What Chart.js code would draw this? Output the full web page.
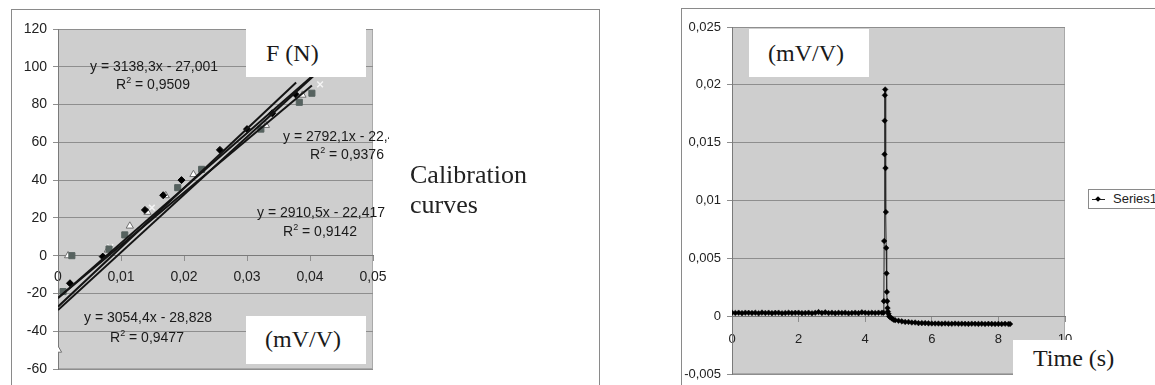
<!DOCTYPE html>
<html>
<head>
<meta charset="utf-8">
<script src="https://cdn.jsdelivr.net/npm/chart.js@4/dist/chart.umd.min.js"></script>
<style>
  html, body { margin: 0; padding: 0; background: #fff; }
  body { width: 1155px; height: 385px; position: relative; overflow: hidden; font-family: "Liberation Sans", Arial, sans-serif; }
  .frame { position: absolute; border: 1px solid #8a8a8a; box-sizing: border-box; }
  .wrap { position: absolute; }
  .clip { position: absolute; overflow: hidden; }
  .eq { position: absolute; font-size: 14px; line-height: 16px; color: #1a1a1a; white-space: nowrap; }
  .eq sup { font-size: 9px; vertical-align: 6px; line-height: 0; }
  .box { position: absolute; background: #fff; font-family: "Liberation Serif", "Times New Roman", serif; font-size: 24px; color: #1a1a1a; white-space: nowrap; }
  .serif { position: absolute; font-family: "Liberation Serif", "Times New Roman", serif; font-size: 26px; line-height: 30px; color: #222; }
  .legend { position: absolute; left: 1088px; top: 189px; width: 90px; height: 20px; border: 1px solid #8a8a8a; box-sizing: border-box; background: #fff; }
  .legend .ln { position: absolute; left: 3px; top: 9px; width: 13px; height: 1px; background: #222; }
  .legend .mk { position: absolute; left: 7px; top: 7px; width: 4px; height: 4px; background: #000; transform: rotate(45deg); }
  .legend .tx { position: absolute; left: 24px; top: 1px; font-size: 13px; line-height: 16px; color: #222; }
</style>
</head>
<body>

<div class="frame" style="left:11px; top:9px; width:589px; height:400px;"></div>
<div class="frame" style="left:681px; top:8px; width:500px; height:400px;"></div>

<div class="wrap" style="left:11px; top:9px; width:588px; height:376px;"><canvas id="calib"></canvas></div>
<div class="wrap" style="left:681px; top:8px; width:474px; height:377px;"><canvas id="signal"></canvas></div>

<!-- left chart overlays: equations clipped at chart edge -->
<div class="clip" style="left:58px; top:29px; width:331px; height:341px;">
  <div class="eq" style="left:32px; top:29px;">y = 3138,3x - 27,001</div>
  <div class="eq" style="left:58px; top:47px;">R<sup>2</sup> = 0,9509</div>
  <div class="eq" style="left:225px; top:99px;">y = 2792,1x - 22,4</div>
  <div class="eq" style="left:252px; top:117px;">R<sup>2</sup> = 0,9376</div>
  <div class="eq" style="left:199px; top:175px;">y = 2910,5x - 22,417</div>
  <div class="eq" style="left:225px; top:194px;">R<sup>2</sup> = 0,9142</div>
  <div class="eq" style="left:26px; top:280px;">y = 3054,4x - 28,828</div>
  <div class="eq" style="left:52px; top:300px;">R<sup>2</sup> = 0,9477</div>
</div>
<div class="box" style="left:246px; top:29px; width:120px; height:48px; line-height:48px; padding-left:20px; box-sizing:border-box;">F (N)</div>
<div class="box" style="left:246px; top:316px; width:120px; height:48px; line-height:46px; padding-left:19px; box-sizing:border-box;">(mV/V)</div>
<div class="serif" style="left:410px; top:160px;">Calibration<br>curves</div>

<!-- right chart overlays -->
<div class="box" style="left:749px; top:29px; width:120px; height:48px; line-height:48px; padding-left:19px; box-sizing:border-box;">(mV/V)</div>
<div class="box" style="left:1013px; top:340px; width:110px; height:36px; line-height:36px; padding-left:20px; box-sizing:border-box;">Time (s)</div>
<div class="legend"><div class="ln"></div><div class="mk"></div><div class="tx">Series1</div></div>

<script>
// ---- calibration data (strain gauge signal mV/V vs force N) ----
const diamondX = [0.0019, 0.0071, 0.0138, 0.0167, 0.0196, 0.0257, 0.0300, 0.0340, 0.0377];
const diamondY = [-14.6, -0.5, 24.2, 32, 40, 56, 67, 75.4, 85.4];
const squareX = [0.0008, 0.0022, 0.0081, 0.0106, 0.0190, 0.0228, 0.0322, 0.0383, 0.0403];
const squareY = [-19, 0, 3.5, 11, 36, 45.7, 67, 81.2, 86];
const triangleX = [0, 0.0016, 0.0079, 0.0114, 0.0142, 0.0171, 0.0215, 0.0330, 0.0388];
const triangleY = [-50, 0, 3, 15.7, 23, 31.8, 43, 69, 85];
const crossX = [0.0083, 0.0149, 0.0416];
const crossY = [4.5, 25.4, 90.7];

// trend lines as labelled on the chart
const fitSlope = [3138.3, 2792.1, 2910.5, 3054.4];
const fitIntercept = [-27.001, -22.4, -22.417, -28.828];
const fitEnd = [0.0378, 0.0403, 0.0416, 0.0416];

const calibXTicks = [0, 0.01, 0.02, 0.03, 0.04, 0.05];

// ---- time signal data ----
const timeS = [
  0, 0.1, 0.2, 0.3, 0.4, 0.5, 0.6, 0.7, 0.8, 0.9,
  1.0, 1.1, 1.2, 1.3, 1.4, 1.5, 1.6, 1.7, 1.8, 1.9,
  2.0, 2.1, 2.2, 2.3, 2.4, 2.5, 2.6, 2.7, 2.8, 2.9,
  3.0, 3.1, 3.2, 3.3, 3.4, 3.5, 3.6, 3.7, 3.8, 3.9,
  4.0, 4.1, 4.2, 4.3, 4.4, 4.5, 4.55,
  4.56, 4.57, 4.58, 4.585, 4.59, 4.60, 4.61, 4.62, 4.63, 4.64, 4.65, 4.66, 4.67, 4.68,
  4.70, 4.72, 4.75, 4.80, 4.85, 4.90, 5.0,
  5.1, 5.2, 5.3, 5.4, 5.5, 5.6, 5.7, 5.8, 5.9, 6.0,
  6.1, 6.2, 6.3, 6.4, 6.5, 6.6, 6.7, 6.8, 6.9, 7.0,
  7.1, 7.2, 7.3, 7.4, 7.5, 7.6, 7.7, 7.8, 7.9, 8.0,
  8.1, 8.2, 8.3, 8.35
];
const signalMvV = [
  0.0003, 0.00028, 0.0003, 0.00026, 0.0003, 0.00029, 0.00027, 0.0003, 0.00025, 0.00031,
  0.00028, 0.0003, 0.00026, 0.00029, 0.0003, 0.00025, 0.00028, 0.0003, 0.00027, 0.00029,
  0.0003, 0.00026, 0.00028, 0.0003, 0.00025, 0.00029, 0.00035, 0.00028, 0.00033, 0.00027,
  0.0003, 0.00026, 0.00029, 0.00028, 0.0003, 0.00025, 0.00028, 0.0003, 0.00026, 0.00033,
  0.00029, 0.00027, 0.0003, 0.00028, 0.0003, 0.0003, 0.0003,
  0.0013, 0.0065, 0.0140, 0.0169, 0.0191, 0.0196, 0.0128, 0.0090, 0.0059, 0.0037, 0.0021, 0.0013, 0.0007, 0.0004,
  0.0002, 0.0, -0.0001, -0.0002, -0.0003, -0.00035, -0.0004,
  -0.00045, -0.0005, -0.0005, -0.00055, -0.00055, -0.0006, -0.0006, -0.0006, -0.00062, -0.00063,
  -0.00064, -0.00064, -0.00065, -0.00063, -0.00065, -0.00066, -0.00064, -0.00066, -0.00065, -0.00066,
  -0.00067, -0.00065, -0.00066, -0.00067, -0.00066, -0.00068, -0.00066, -0.00067, -0.00068, -0.00067,
  -0.00068, -0.00066, -0.00068, -0.00068
];
const signalYTicks = [-0.005, 0, 0.005, 0.01, 0.015, 0.02, 0.025];
const signalXTicks = [0, 2, 4, 6, 8, 10];

const FONT = "'Liberation Sans', Arial, sans-serif";
const INK = '#222';
const GRID = '#8e8e8e';

// comma decimal labels like the original spreadsheet
const commaLabel = (v, digits) => String(Number(v.toFixed(digits))).replace('.', ',');

const toPoints = (xs, ys) => xs.map((x, i) => ({ x: x, y: ys[i] }));

// fixed axis sizes so the plot area lands where it should
const fixWidth = (w) => (s) => { s.width = w; s.paddingTop = 0; s.paddingBottom = 0; };
const noSidePad = (s) => { s.paddingLeft = 0; s.paddingRight = 0; };

// grey plot area behind everything
const plotBg = {
  id: 'plotBg',
  beforeDraw(chart) {
    const { ctx, chartArea: a } = chart;
    ctx.save();
    ctx.fillStyle = '#cecece';
    ctx.fillRect(a.left, a.top, a.right - a.left, a.bottom - a.top);
    ctx.strokeStyle = '#a9a9a9';
    ctx.lineWidth = 1;
    ctx.strokeRect(a.left + 0.5, a.top + 0.5, a.right - a.left - 1, a.bottom - a.top - 1);
    ctx.restore();
  }
};

// ---- left chart ----
const trendSets = fitSlope.map((m, i) => ({
  type: 'line',
  data: [{ x: 0, y: fitIntercept[i] }, { x: fitEnd[i], y: m * fitEnd[i] + fitIntercept[i] }],
  borderColor: '#141414',
  borderWidth: 2,
  pointRadius: 0,
  fill: false,
  order: 0
}));

new Chart(document.getElementById('calib'), {
  type: 'scatter',
  data: {
    datasets: [
      ...trendSets,
      { data: toPoints(diamondX, diamondY), pointStyle: 'rectRot', pointRadius: 3.5, backgroundColor: '#000', borderColor: '#000', borderWidth: 1, order: 1 },
      { data: toPoints(squareX, squareY), pointStyle: 'rect', pointRadius: 4.3, backgroundColor: '#56625f', borderColor: '#56625f', borderWidth: 1, order: 1 },
      { data: toPoints(triangleX, triangleY), pointStyle: 'triangle', pointRadius: 4.2, backgroundColor: '#fff', borderColor: '#707070', borderWidth: 1, order: 1 },
      { data: toPoints(crossX, crossY), pointStyle: 'crossRot', pointRadius: 4, backgroundColor: '#fff', borderColor: '#f4f4f4', borderWidth: 1.5, order: 1 }
    ]
  },
  options: {
    responsive: true,
    maintainAspectRatio: false,
    animation: false,
    events: [],
    layout: { padding: { left: 0, top: 20, right: 226, bottom: 16 } },
    plugins: { legend: { display: false }, tooltip: { enabled: false } },
    scales: {
      x: {
        type: 'linear',
        min: 0,
        max: 0.05,
        position: { y: 0 },
        afterFit: noSidePad,
        afterBuildTicks: (s) => { s.ticks = calibXTicks.map(v => ({ value: v })); },
        ticks: { color: INK, font: { family: FONT, size: 14 }, padding: 8, callback: (v) => commaLabel(v, 2) },
        grid: { drawOnChartArea: false, drawTicks: true, tickLength: 5, color: GRID },
        border: { color: '#7a7a7a' }
      },
      y: {
        min: -60,
        max: 120,
        afterFit: fixWidth(47),
        ticks: { stepSize: 20, color: INK, font: { family: FONT, size: 14 }, padding: 6 },
        grid: { color: GRID, tickLength: 5 },
        border: { color: '#7a7a7a' }
      }
    }
  },
  plugins: [plotBg]
});

// ---- right chart ----
new Chart(document.getElementById('signal'), {
  type: 'line',
  data: {
    datasets: [{
      label: 'Series1',
      data: toPoints(timeS, signalMvV),
      borderColor: '#2a2a2a',
      borderWidth: 1,
      pointStyle: 'rectRot',
      pointRadius: 2.8,
      pointBackgroundColor: '#000',
      pointBorderColor: '#000',
      pointBorderWidth: 0.5,
      fill: false,
      tension: 0
    }]
  },
  options: {
    responsive: true,
    maintainAspectRatio: false,
    animation: false,
    events: [],
    layout: { padding: { left: 0, top: 19, right: 90, bottom: 11 } },
    plugins: { legend: { display: false }, tooltip: { enabled: false } },
    scales: {
      x: {
        type: 'linear',
        min: 0,
        max: 10,
        position: { y: 0 },
        afterFit: noSidePad,
        afterBuildTicks: (s) => { s.ticks = signalXTicks.map(v => ({ value: v })); },
        ticks: { color: INK, font: { family: FONT, size: 13 }, padding: 10 },
        grid: { drawOnChartArea: false, drawTicks: true, tickLength: 5, color: GRID },
        border: { color: '#7a7a7a' }
      },
      y: {
        min: -0.005,
        max: 0.025,
        afterFit: fixWidth(51),
        afterBuildTicks: (s) => { s.ticks = signalYTicks.map(v => ({ value: v })); },
        ticks: { color: INK, font: { family: FONT, size: 13 }, padding: 6, callback: (v) => commaLabel(v, 3) },
        grid: { color: GRID, tickLength: 5 },
        border: { color: '#7a7a7a' }
      }
    }
  },
  plugins: [plotBg]
});
</script>
</body>
</html>
